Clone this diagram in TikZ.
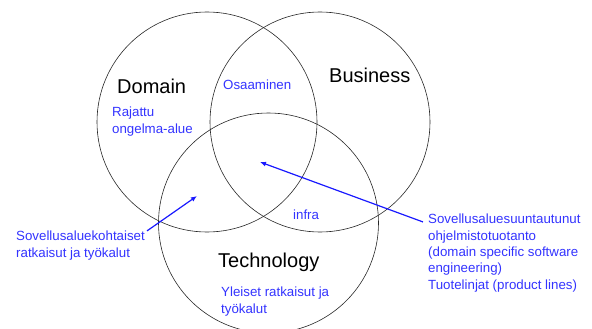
\documentclass[tikz,border=0pt]{standalone}
\usepackage{fontspec}
\setmainfont{Liberation Sans}
\usetikzlibrary{arrows.meta}
\definecolor{labelblue}{RGB}{51,51,255}
\definecolor{arrowblue}{RGB}{25,25,255}
\begin{document}
\begin{tikzpicture}[x=1pt,y=-1pt,
  area/.style={circle, draw=black!85, line width=0.6pt, minimum size=220pt, inner sep=0pt},
  title/.style={font=\fontsize{20}{24}\selectfont, inner sep=0pt, anchor=base west},
  % multi-line notes are placed by the baseline of their last line
  note/.style={text=labelblue, font=\fontsize{13.3}{16.3}\selectfont, inner sep=0pt,
    anchor=base west, align=left},
  pointer/.style={draw=arrowblue, line width=1.2pt, -{Latex[length=6pt,width=5pt]}}]
\useasboundingbox (0,0) rectangle (592,329);
% the three overlapping areas
\node[area] (domain) at (207,122) {};
\node[area] (business) at (320,122) {};
\node[area] (technology) at (268.5,223) {};
% area titles
\node[title] (domaintitle) at (117,93) {Domain};
\node[title] (businesstitle) at (329,83) {Business};
\node[title] (techtitle) at (218,267) {Technology};
% notes inside the areas
\node[note] (osaaminen) at (223,89) {Osaaminen};
\node[note] (rajattu) at (112,133) {Rajattu\\ongelma-alue};
\node[note] (infra) at (293,219) {infra};
\node[note] (yleiset) at (221,313) {Yleiset ratkaisut ja\\työkalut};
% notes outside, with pointers into the overlaps
\node[note] (sovkoht) at (16,257) {Sovellusaluekohtaiset\\ratkaisut ja työkalut};
\node[note] (sovsuunt) at (428,289) {Sovellusaluesuuntautunut\\ohjelmistotuotanto\\(domain specific software\\engineering)\\Tuotelinjat (product lines)};
\coordinate (domtech) at (197,196);
\coordinate (centre) at (260,162);
\draw[pointer] ([xshift=2pt]sovkoht.north east) -- (domtech);
\draw[pointer] ([xshift=-5pt,yshift=-8pt]sovsuunt.north west) -- (centre);
\end{tikzpicture}
\end{document}
